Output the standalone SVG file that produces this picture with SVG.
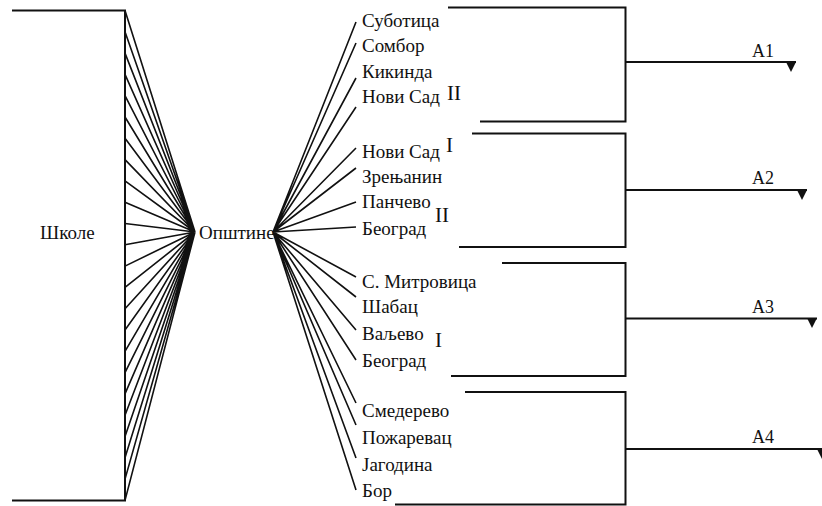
<svg xmlns="http://www.w3.org/2000/svg" width="822" height="506" viewBox="0 0 822 506">
<style>
text{font-family:"Liberation Serif","Noto Serif","DejaVu Serif","FreeSerif","Nimbus Roman","Tinos","Times New Roman",Times,serif;fill:#111;}
.city{font-size:19px;}
.main{font-size:19px;}
.rom{font-size:21px;}
.a{font-size:18px;}
.br{fill:none;stroke:#111;stroke-width:2;}
.fan{stroke:#111;stroke-width:1.6;fill:none;}
.out{stroke:#111;stroke-width:1.8;fill:none;}
.tri{fill:#111;}
</style>
<g id="connectors">
  <g id="left-bracket">
    <path class="br" d="M12 10.5 H125 V500.5 H12"/>
  </g>
  <g id="left-fan">
    <path class="fan" d="M125 10.5 L195 232 M125 31.8 L195 232 M125 53.1 L195 232 M125 74.4 L195 232 M125 95.7 L195 232 M125 117 L195 232 M125 138.3 L195 232 M125 159.6 L195 232 M125 180.9 L195 232 M125 202.2 L195 232 M125 223.5 L195 232 M125 244.8 L195 232 M125 266.1 L195 232 M125 287.4 L195 232 M125 308.7 L195 232 M125 330 L195 232 M125 351.3 L195 232 M125 372.6 L195 232 M125 393.9 L195 232 M125 415.2 L195 232 M125 436.5 L195 232 M125 457.8 L195 232 M125 479.1 L195 232 M125 500.4 L195 232"/>
  </g>
  <g id="right-fan">
    <path class="fan" d="M273 232 L356 22 M273 232 L356 43 M273 232 L356 78 M273 232 L356 107 M273 232 L356 148 M273 232 L356 168 M273 232 L356 202 M273 232 L356 227 M273 232 L356 277 M273 232 L356 297 M273 232 L356 330 M273 232 L356 360 M273 232 L356 403 M273 232 L356 425 M273 232 L356 458 M273 232 L356 490"/>
  </g>
  <g id="group-brackets">
    <path class="br" d="M448 7.5 H625.5 V121.5 H480"/>
    <path class="br" d="M472 133.5 H625.5 V247 H459"/>
    <path class="br" d="M502 263 H625.5 V376 H451"/>
    <path class="br" d="M465 392 H625.5 V504.5 H395"/>
  </g>
  <g id="outputs">
    <path class="out" d="M625.5 62 H796"/>
    <polygon class="tri" points="786,62 796,62 791,72"/>
    <path class="out" d="M625.5 190 H807"/>
    <polygon class="tri" points="797,190 807,190 802,200"/>
    <path class="out" d="M625.5 318.5 H817"/>
    <polygon class="tri" points="807,318 817,318 812,328"/>
    <path class="out" d="M625.5 449 H822"/>
    <polygon class="tri" points="817,449 827,449 822,459"/>
  </g>
</g>
<g id="node-skole"><text class="main" x="40" y="239">Школе</text></g>
<g id="node-opstine"><text class="main" x="199" y="239">Општине</text></g>
<g id="group-1">
  <text class="city" x="362" y="27">Суботица</text>
  <text class="city" x="362" y="52">Сомбор</text>
  <text class="city" x="362" y="78">Кикинда</text>
  <text class="city" x="362" y="103">Нови Сад</text>
  <text class="rom" x="447" y="100">II</text>
</g>
<g id="group-2">
  <text class="city" x="362" y="158">Нови Сад</text>
  <text class="rom" x="446" y="152">I</text>
  <text class="city" x="362" y="183">Зрењанин</text>
  <text class="city" x="362" y="208">Панчево</text>
  <text class="rom" x="435" y="222">II</text>
  <text class="city" x="362" y="235">Београд</text>
</g>
<g id="group-3">
  <text class="city" x="362" y="288">С. Митровица</text>
  <text class="city" x="362" y="313">Шабац</text>
  <text class="city" x="362" y="340">Ваљево</text>
  <text class="rom" x="435" y="347">I</text>
  <text class="city" x="362" y="367">Београд</text>
</g>
<g id="group-4">
  <text class="city" x="362" y="417">Смедерево</text>
  <text class="city" x="362" y="444">Пожаревац</text>
  <text class="city" x="362" y="471">Јагодина</text>
  <text class="city" x="362" y="497">Бор</text>
</g>
<g id="label-a1"><text class="a" x="752" y="57">A1</text></g>
<g id="label-a2"><text class="a" x="752" y="184">A2</text></g>
<g id="label-a3"><text class="a" x="752" y="313">A3</text></g>
<g id="label-a4"><text class="a" x="752" y="443">A4</text></g>
</svg>
